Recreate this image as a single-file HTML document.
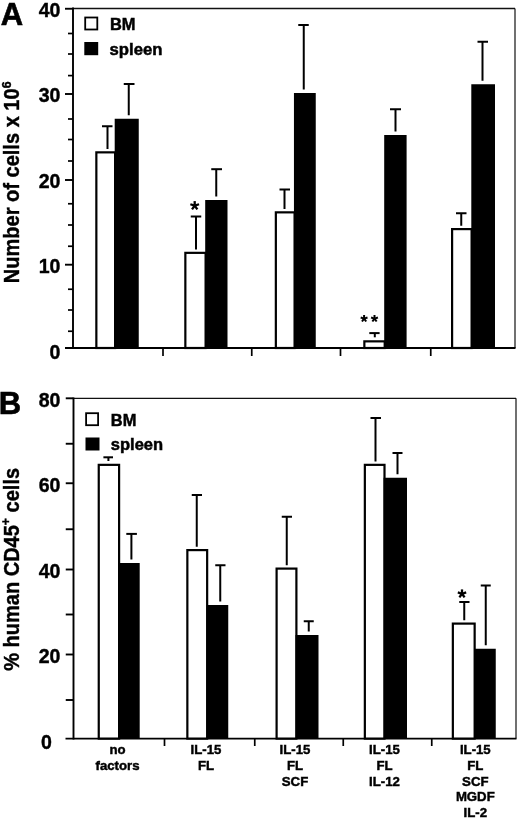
<!DOCTYPE html>
<html><head><meta charset="utf-8"><title>Figure</title>
<style>html,body{margin:0;padding:0;background:#fff;}body{width:520px;height:820px;overflow:hidden;font-family:"Liberation Sans",sans-serif;}svg{display:block;filter:grayscale(1) blur(0.3px)}</style>
</head><body>
<svg width="520" height="820" viewBox="0 0 520 820">
<rect x="0" y="0" width="520" height="820" fill="#fff"/>
<line x1="73" y1="8.5" x2="515" y2="8.5" stroke="#111" stroke-width="1.35"/>
<line x1="515" y1="8.5" x2="515" y2="348" stroke="#111" stroke-width="1.2"/>
<line x1="73" y1="7.6" x2="73" y2="348.9" stroke="#000" stroke-width="1.9"/>
<line x1="65" y1="348" x2="515.5" y2="348" stroke="#000" stroke-width="1.9"/>
<line x1="65" y1="8.75" x2="73" y2="8.75" stroke="#000" stroke-width="1.9"/>
<line x1="65" y1="94" x2="73" y2="94" stroke="#000" stroke-width="1.9"/>
<line x1="65" y1="180" x2="73" y2="180" stroke="#000" stroke-width="1.9"/>
<line x1="65" y1="264.7" x2="73" y2="264.7" stroke="#000" stroke-width="1.9"/>
<line x1="68" y1="33.5" x2="73" y2="33.5" stroke="#000" stroke-width="1.7"/>
<line x1="68" y1="54" x2="73" y2="54" stroke="#000" stroke-width="1.7"/>
<line x1="68" y1="75.6" x2="73" y2="75.6" stroke="#000" stroke-width="1.7"/>
<line x1="68" y1="119" x2="73" y2="119" stroke="#000" stroke-width="1.7"/>
<line x1="68" y1="139.5" x2="73" y2="139.5" stroke="#000" stroke-width="1.7"/>
<line x1="68" y1="161" x2="73" y2="161" stroke="#000" stroke-width="1.7"/>
<line x1="68" y1="203.75" x2="73" y2="203.75" stroke="#000" stroke-width="1.7"/>
<line x1="68" y1="225" x2="73" y2="225" stroke="#000" stroke-width="1.7"/>
<line x1="68" y1="246.25" x2="73" y2="246.25" stroke="#000" stroke-width="1.7"/>
<line x1="68" y1="289.25" x2="73" y2="289.25" stroke="#000" stroke-width="1.7"/>
<line x1="68" y1="310" x2="73" y2="310" stroke="#000" stroke-width="1.7"/>
<line x1="68" y1="331.25" x2="73" y2="331.25" stroke="#000" stroke-width="1.7"/>
<line x1="163" y1="348" x2="163" y2="356" stroke="#000" stroke-width="1.7"/>
<line x1="251.75" y1="348" x2="251.75" y2="356" stroke="#000" stroke-width="1.7"/>
<line x1="340.5" y1="348" x2="340.5" y2="356" stroke="#000" stroke-width="1.7"/>
<line x1="430.75" y1="348" x2="430.75" y2="356" stroke="#000" stroke-width="1.7"/>
<rect x="96.35" y="152.35" width="18.75" height="195.65" fill="#fff" stroke="#000" stroke-width="2.2"/>
<rect x="114.7" y="118.75" width="24.05" height="229.25" fill="#000"/>
<rect x="185.35" y="252.85" width="20.25" height="95.15" fill="#fff" stroke="#000" stroke-width="2.2"/>
<rect x="205.2" y="200" width="22.3" height="148" fill="#000"/>
<rect x="275.85" y="212.35" width="18.75" height="135.65" fill="#fff" stroke="#000" stroke-width="2.2"/>
<rect x="293.95" y="93" width="21.8" height="255" fill="#000"/>
<rect x="364.35" y="341.35" width="20.35" height="6.65" fill="#fff" stroke="#000" stroke-width="2.2"/>
<rect x="384.2" y="135" width="22.4" height="213" fill="#000"/>
<rect x="452.1" y="229.1" width="19.5" height="118.9" fill="#fff" stroke="#000" stroke-width="2.2"/>
<rect x="471.3" y="84.25" width="23.7" height="263.75" fill="#000"/>
<line x1="107.5" y1="126.25" x2="107.5" y2="149.0" stroke="#000" stroke-width="2.0"/>
<line x1="102" y1="126.25" x2="112.5" y2="126.25" stroke="#000" stroke-width="2.0"/>
<line x1="128.75" y1="84" x2="128.75" y2="115.25" stroke="#000" stroke-width="2.0"/>
<line x1="123.75" y1="84" x2="134.5" y2="84" stroke="#000" stroke-width="2.0"/>
<line x1="196" y1="216.5" x2="196" y2="249.5" stroke="#000" stroke-width="2.0"/>
<line x1="190.75" y1="216.5" x2="201.25" y2="216.5" stroke="#000" stroke-width="2.0"/>
<line x1="216.25" y1="169.2" x2="216.25" y2="196.5" stroke="#000" stroke-width="2.0"/>
<line x1="211.25" y1="169.2" x2="222" y2="169.2" stroke="#000" stroke-width="2.0"/>
<line x1="284.5" y1="189.5" x2="284.5" y2="209.0" stroke="#000" stroke-width="2.0"/>
<line x1="279.5" y1="189.5" x2="290" y2="189.5" stroke="#000" stroke-width="2.0"/>
<line x1="303.75" y1="25" x2="303.75" y2="89.5" stroke="#000" stroke-width="2.0"/>
<line x1="298.25" y1="25" x2="308.75" y2="25" stroke="#000" stroke-width="2.0"/>
<line x1="374.8" y1="333.1" x2="374.8" y2="337.3" stroke="#000" stroke-width="2.0"/>
<line x1="369.3" y1="333.1" x2="379.6" y2="333.1" stroke="#000" stroke-width="2.0"/>
<line x1="395.5" y1="109.25" x2="395.5" y2="131.5" stroke="#000" stroke-width="2.0"/>
<line x1="390" y1="109.25" x2="401" y2="109.25" stroke="#000" stroke-width="2.0"/>
<line x1="461.25" y1="213.25" x2="461.25" y2="225.75" stroke="#000" stroke-width="2.0"/>
<line x1="456" y1="213.25" x2="466.5" y2="213.25" stroke="#000" stroke-width="2.0"/>
<line x1="482.5" y1="41.75" x2="482.5" y2="80.75" stroke="#000" stroke-width="2.0"/>
<line x1="477.5" y1="41.75" x2="488" y2="41.75" stroke="#000" stroke-width="2.0"/>
<line x1="194.7" y1="205.7" x2="194.7" y2="201.1" stroke="#000" stroke-width="2.3"/>
<line x1="194.7" y1="205.7" x2="199.07" y2="204.28" stroke="#000" stroke-width="2.3"/>
<line x1="194.7" y1="205.7" x2="197.4" y2="209.42" stroke="#000" stroke-width="2.3"/>
<line x1="194.7" y1="205.7" x2="192.0" y2="209.42" stroke="#000" stroke-width="2.3"/>
<line x1="194.7" y1="205.7" x2="190.33" y2="204.28" stroke="#000" stroke-width="2.3"/>
<line x1="364.1" y1="318.6" x2="364.1" y2="315.0" stroke="#000" stroke-width="2.0"/>
<line x1="364.1" y1="318.6" x2="367.52" y2="317.49" stroke="#000" stroke-width="2.0"/>
<line x1="364.1" y1="318.6" x2="366.22" y2="321.51" stroke="#000" stroke-width="2.0"/>
<line x1="364.1" y1="318.6" x2="361.98" y2="321.51" stroke="#000" stroke-width="2.0"/>
<line x1="364.1" y1="318.6" x2="360.68" y2="317.49" stroke="#000" stroke-width="2.0"/>
<line x1="374.5" y1="318.6" x2="374.5" y2="315.0" stroke="#000" stroke-width="2.0"/>
<line x1="374.5" y1="318.6" x2="377.92" y2="317.49" stroke="#000" stroke-width="2.0"/>
<line x1="374.5" y1="318.6" x2="376.62" y2="321.51" stroke="#000" stroke-width="2.0"/>
<line x1="374.5" y1="318.6" x2="372.38" y2="321.51" stroke="#000" stroke-width="2.0"/>
<line x1="374.5" y1="318.6" x2="371.08" y2="317.49" stroke="#000" stroke-width="2.0"/>
<rect x="85.2" y="17.5" width="12.1" height="12.0" fill="#fff" stroke="#000" stroke-width="1.8"/>
<rect x="84.3" y="42" width="13.9" height="13.2" fill="#000"/>
<text x="110.0" y="30.3" font-size="16.4" text-anchor="start" stroke="#000" stroke-width="0.5" font-family="Liberation Sans, sans-serif" font-weight="bold" >BM</text>
<text x="109.6" y="54.9" font-size="16.7" text-anchor="start" stroke="#000" stroke-width="0.5" font-family="Liberation Sans, sans-serif" font-weight="bold" >spleen</text>
<text x="0.8" y="25" font-size="31" text-anchor="start" stroke="#000" stroke-width="0.62" font-family="Liberation Sans, sans-serif" font-weight="bold" >A</text>
<text transform="translate(60.4,16.9) scale(0.95,1)" font-size="20.6" text-anchor="end" stroke="#000" stroke-width="0.41" font-family="Liberation Sans, sans-serif" font-weight="bold" >40</text>
<text transform="translate(60.4,102) scale(0.95,1)" font-size="20.6" text-anchor="end" stroke="#000" stroke-width="0.41" font-family="Liberation Sans, sans-serif" font-weight="bold" >30</text>
<text transform="translate(60.4,188) scale(0.95,1)" font-size="20.6" text-anchor="end" stroke="#000" stroke-width="0.41" font-family="Liberation Sans, sans-serif" font-weight="bold" >20</text>
<text transform="translate(60.4,272.5) scale(0.95,1)" font-size="20.6" text-anchor="end" stroke="#000" stroke-width="0.41" font-family="Liberation Sans, sans-serif" font-weight="bold" >10</text>
<text transform="translate(60.4,358.5) scale(0.95,1)" font-size="20.6" text-anchor="end" stroke="#000" stroke-width="0.41" font-family="Liberation Sans, sans-serif" font-weight="bold" >0</text>
<text transform="translate(18.9,283.3) rotate(-90) scale(0.946,1)" font-size="21.2" stroke="#000" stroke-width="0.4" font-family="Liberation Sans, sans-serif" font-weight="bold">Number of cells x 10<tspan font-size="13" dy="-7.8">6</tspan></text>
<line x1="73.5" y1="398.3" x2="516" y2="398.3" stroke="#111" stroke-width="1.35"/>
<line x1="516" y1="398.3" x2="516" y2="738.6" stroke="#111" stroke-width="1.2"/>
<line x1="73.5" y1="397.40000000000003" x2="73.5" y2="739.5" stroke="#000" stroke-width="1.9"/>
<line x1="65.5" y1="738.6" x2="516.5" y2="738.6" stroke="#000" stroke-width="1.9"/>
<line x1="65.75" y1="398.3" x2="73.5" y2="398.3" stroke="#000" stroke-width="1.9"/>
<line x1="65.75" y1="443.75" x2="73.5" y2="443.75" stroke="#000" stroke-width="1.9"/>
<line x1="65.75" y1="483.25" x2="73.5" y2="483.25" stroke="#000" stroke-width="1.9"/>
<line x1="65.75" y1="529.25" x2="73.5" y2="529.25" stroke="#000" stroke-width="1.9"/>
<line x1="65.75" y1="569.5" x2="73.5" y2="569.5" stroke="#000" stroke-width="1.9"/>
<line x1="65.75" y1="614.5" x2="73.5" y2="614.5" stroke="#000" stroke-width="1.9"/>
<line x1="65.75" y1="654.5" x2="73.5" y2="654.5" stroke="#000" stroke-width="1.9"/>
<line x1="65.75" y1="700" x2="73.5" y2="700" stroke="#000" stroke-width="1.9"/>
<line x1="164.5" y1="738.6" x2="164.5" y2="746" stroke="#000" stroke-width="1.7"/>
<line x1="254.75" y1="738.6" x2="254.75" y2="746" stroke="#000" stroke-width="1.7"/>
<line x1="343.25" y1="738.6" x2="343.25" y2="746" stroke="#000" stroke-width="1.7"/>
<line x1="431.75" y1="738.6" x2="431.75" y2="746" stroke="#000" stroke-width="1.7"/>
<rect x="98.75" y="464.85" width="20.35" height="273.75" fill="#fff" stroke="#000" stroke-width="2.2"/>
<rect x="118" y="563" width="21.7" height="175.6" fill="#000"/>
<rect x="187.35" y="550.1" width="19.8" height="188.5" fill="#fff" stroke="#000" stroke-width="2.2"/>
<rect x="206.75" y="605" width="21.5" height="133.6" fill="#000"/>
<rect x="276.6" y="568.6" width="19.8" height="170.0" fill="#fff" stroke="#000" stroke-width="2.2"/>
<rect x="295.5" y="635" width="23.0" height="103.6" fill="#000"/>
<rect x="364.85" y="464.85" width="19.65" height="273.75" fill="#fff" stroke="#000" stroke-width="2.2"/>
<rect x="383.6" y="477.75" width="23.4" height="260.85" fill="#000"/>
<rect x="452.85" y="623.6" width="21.8" height="115.0" fill="#fff" stroke="#000" stroke-width="2.2"/>
<rect x="474.25" y="648.75" width="21.5" height="89.85" fill="#000"/>
<line x1="108.4" y1="457.3" x2="108.4" y2="461.0" stroke="#000" stroke-width="2.0"/>
<line x1="103.4" y1="457.3" x2="113" y2="457.3" stroke="#000" stroke-width="2.0"/>
<line x1="131.4" y1="533.9" x2="131.4" y2="559.5" stroke="#000" stroke-width="2.0"/>
<line x1="126.3" y1="533.9" x2="136.9" y2="533.9" stroke="#000" stroke-width="2.0"/>
<line x1="196.75" y1="495" x2="196.75" y2="546.75" stroke="#000" stroke-width="2.0"/>
<line x1="191.75" y1="495" x2="202" y2="495" stroke="#000" stroke-width="2.0"/>
<line x1="220.25" y1="565.25" x2="220.25" y2="601.5" stroke="#000" stroke-width="2.0"/>
<line x1="215.25" y1="565.25" x2="225.5" y2="565.25" stroke="#000" stroke-width="2.0"/>
<line x1="286.75" y1="516.75" x2="286.75" y2="565.25" stroke="#000" stroke-width="2.0"/>
<line x1="281.75" y1="516.75" x2="292" y2="516.75" stroke="#000" stroke-width="2.0"/>
<line x1="308.75" y1="621.25" x2="308.75" y2="631.5" stroke="#000" stroke-width="2.0"/>
<line x1="303.75" y1="621.25" x2="313.75" y2="621.25" stroke="#000" stroke-width="2.0"/>
<line x1="375.5" y1="418" x2="375.5" y2="461.5" stroke="#000" stroke-width="2.0"/>
<line x1="370.5" y1="418" x2="381" y2="418" stroke="#000" stroke-width="2.0"/>
<line x1="397.5" y1="453" x2="397.5" y2="474.25" stroke="#000" stroke-width="2.0"/>
<line x1="392.5" y1="453" x2="402.5" y2="453" stroke="#000" stroke-width="2.0"/>
<line x1="464.25" y1="602" x2="464.25" y2="620.25" stroke="#000" stroke-width="2.0"/>
<line x1="459.25" y1="602" x2="469.5" y2="602" stroke="#000" stroke-width="2.0"/>
<line x1="485.75" y1="585.5" x2="485.75" y2="645.25" stroke="#000" stroke-width="2.0"/>
<line x1="480.75" y1="585.5" x2="490.75" y2="585.5" stroke="#000" stroke-width="2.0"/>
<line x1="462" y1="593.8" x2="462.0" y2="589.4" stroke="#000" stroke-width="2.3"/>
<line x1="462" y1="593.8" x2="466.18" y2="592.44" stroke="#000" stroke-width="2.3"/>
<line x1="462" y1="593.8" x2="464.59" y2="597.36" stroke="#000" stroke-width="2.3"/>
<line x1="462" y1="593.8" x2="459.41" y2="597.36" stroke="#000" stroke-width="2.3"/>
<line x1="462" y1="593.8" x2="457.82" y2="592.44" stroke="#000" stroke-width="2.3"/>
<rect x="86.1" y="413.2" width="12.0" height="12.0" fill="#fff" stroke="#000" stroke-width="1.8"/>
<rect x="85.5" y="437.5" width="14.0" height="13.0" fill="#000"/>
<text x="110.8" y="425.8" font-size="16.4" text-anchor="start" stroke="#000" stroke-width="0.5" font-family="Liberation Sans, sans-serif" font-weight="bold" >BM</text>
<text x="110.8" y="450.4" font-size="16.5" text-anchor="start" stroke="#000" stroke-width="0.5" font-family="Liberation Sans, sans-serif" font-weight="bold" >spleen</text>
<text x="-1.2" y="413.75" font-size="31" text-anchor="start" stroke="#000" stroke-width="0.62" font-family="Liberation Sans, sans-serif" font-weight="bold" >B</text>
<text transform="translate(60.4,406.6) scale(0.95,1)" font-size="20.6" text-anchor="end" stroke="#000" stroke-width="0.41" font-family="Liberation Sans, sans-serif" font-weight="bold" >80</text>
<text transform="translate(60.4,491.6) scale(0.95,1)" font-size="20.6" text-anchor="end" stroke="#000" stroke-width="0.41" font-family="Liberation Sans, sans-serif" font-weight="bold" >60</text>
<text transform="translate(60.4,577.6) scale(0.95,1)" font-size="20.6" text-anchor="end" stroke="#000" stroke-width="0.41" font-family="Liberation Sans, sans-serif" font-weight="bold" >40</text>
<text transform="translate(60.4,662.8) scale(0.95,1)" font-size="20.6" text-anchor="end" stroke="#000" stroke-width="0.41" font-family="Liberation Sans, sans-serif" font-weight="bold" >20</text>
<text transform="translate(51.8,748.9) scale(0.95,1)" font-size="20.6" text-anchor="end" stroke="#000" stroke-width="0.41" font-family="Liberation Sans, sans-serif" font-weight="bold" >0</text>
<text transform="translate(18.5,670.8) rotate(-90) scale(0.944,1)" font-size="21.2" stroke="#000" stroke-width="0.4" font-family="Liberation Sans, sans-serif" font-weight="bold">% human CD45<tspan font-size="13" dy="-8.3">+</tspan><tspan dy="8.3"> cells</tspan></text>
<text x="117.5" y="754.2" font-size="13.2" text-anchor="middle" stroke="#000" stroke-width="0.45" font-family="Liberation Sans, sans-serif" font-weight="bold" >no</text>
<text x="117.5" y="769.9" font-size="13.2" text-anchor="middle" stroke="#000" stroke-width="0.45" font-family="Liberation Sans, sans-serif" font-weight="bold" >factors</text>
<text x="206" y="754.2" font-size="13.2" text-anchor="middle" stroke="#000" stroke-width="0.45" font-family="Liberation Sans, sans-serif" font-weight="bold" >IL-15</text>
<text x="206" y="769.9" font-size="13.2" text-anchor="middle" stroke="#000" stroke-width="0.45" font-family="Liberation Sans, sans-serif" font-weight="bold" >FL</text>
<text x="295" y="754.2" font-size="13.2" text-anchor="middle" stroke="#000" stroke-width="0.45" font-family="Liberation Sans, sans-serif" font-weight="bold" >IL-15</text>
<text x="295" y="769.9" font-size="13.2" text-anchor="middle" stroke="#000" stroke-width="0.45" font-family="Liberation Sans, sans-serif" font-weight="bold" >FL</text>
<text x="295" y="785.6" font-size="13.2" text-anchor="middle" stroke="#000" stroke-width="0.45" font-family="Liberation Sans, sans-serif" font-weight="bold" >SCF</text>
<text x="384.5" y="754.2" font-size="13.2" text-anchor="middle" stroke="#000" stroke-width="0.45" font-family="Liberation Sans, sans-serif" font-weight="bold" >IL-15</text>
<text x="384.5" y="769.9" font-size="13.2" text-anchor="middle" stroke="#000" stroke-width="0.45" font-family="Liberation Sans, sans-serif" font-weight="bold" >FL</text>
<text x="384.5" y="785.6" font-size="13.2" text-anchor="middle" stroke="#000" stroke-width="0.45" font-family="Liberation Sans, sans-serif" font-weight="bold" >IL-12</text>
<text x="475.3" y="754.2" font-size="13.2" text-anchor="middle" stroke="#000" stroke-width="0.45" font-family="Liberation Sans, sans-serif" font-weight="bold" >IL-15</text>
<text x="475.3" y="769.9" font-size="13.2" text-anchor="middle" stroke="#000" stroke-width="0.45" font-family="Liberation Sans, sans-serif" font-weight="bold" >FL</text>
<text x="475.3" y="785.6" font-size="13.2" text-anchor="middle" stroke="#000" stroke-width="0.45" font-family="Liberation Sans, sans-serif" font-weight="bold" >SCF</text>
<text x="475.3" y="801.3" font-size="13.2" text-anchor="middle" stroke="#000" stroke-width="0.45" font-family="Liberation Sans, sans-serif" font-weight="bold" >MGDF</text>
<text x="475.3" y="817.0" font-size="13.2" text-anchor="middle" stroke="#000" stroke-width="0.45" font-family="Liberation Sans, sans-serif" font-weight="bold" >IL-2</text>
</svg>
</body></html>
